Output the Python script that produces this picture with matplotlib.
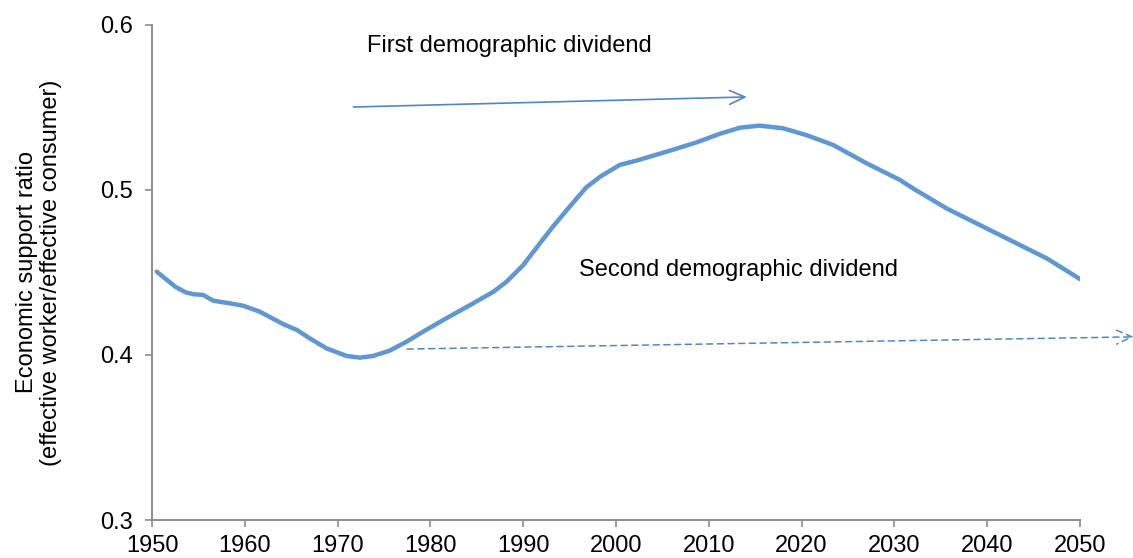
import matplotlib
matplotlib.use("Agg")
import matplotlib.pyplot as plt

plt.rcParams['font.family'] = ['Liberation Sans', 'DejaVu Sans']

# economic support ratio
years = [1950.5, 1952.5, 1953.6, 1954.5, 1955.5, 1956.6, 1958.4, 1959.8, 1961.6,
         1964.1, 1965.6, 1967.0, 1968.8, 1971.0, 1972.4, 1973.8, 1975.6, 1977.4,
         1979.2, 1981.7, 1984.6, 1986.8, 1988.2, 1990.0, 1991.8, 1993.2, 1995.0,
         1996.8, 1998.3, 2000.4, 2002.2, 2005.8, 2008.7, 2011.2, 2013.4, 2015.5,
         2018.0, 2020.5, 2023.4, 2027.0, 2030.6, 2032.0, 2035.6, 2039.2, 2042.8,
         2046.4, 2049.3, 2050.0]
ratio = [0.4505, 0.4414, 0.4380, 0.4368, 0.4364, 0.4329, 0.4313, 0.4299, 0.4263,
         0.4188, 0.4152, 0.4101, 0.4040, 0.3994, 0.3984, 0.3994, 0.4026, 0.4080,
         0.4141, 0.4222, 0.4313, 0.4384, 0.4444, 0.4545, 0.4677, 0.4778, 0.4899,
         0.5016, 0.5081, 0.5152, 0.5178, 0.5238, 0.5289, 0.5341, 0.5378, 0.5390,
         0.5374, 0.5333, 0.5273, 0.5162, 0.5061, 0.5010, 0.4889, 0.4788, 0.4687,
         0.4586, 0.4485, 0.4460]

xticks = list(range(1950, 2051, 10))
yticks = [0.3, 0.4, 0.5, 0.6]

# dividend arrows: (start, end) in data units
first_arrow = ((1971.7, 0.5503), (2014.1, 0.5564))
second_arrow = ((1977.5, 0.4036), (2055.8, 0.4110))

line_color = '#5E97D1'
arrow_color = '#4F86C6'
axis_color = '#8C8C8E'
fs = 17

fig = plt.figure(figsize=(11.33, 5.58), dpi=100)
ax = fig.add_axes([0.1342, 0.0681, 0.8190, 0.8871])

ax.plot(years, ratio, color=line_color, lw=3.2, solid_capstyle='round',
        solid_joinstyle='round')

ax.set_xlim(1950, 2050)
ax.set_ylim(0.3, 0.6)
ax.set_xticks(xticks)
ax.set_yticks(yticks)
ax.set_yticklabels([f'{v:.1f}' for v in yticks])

for side in ['top', 'right']:
    ax.spines[side].set_visible(False)
for side in ['left', 'bottom']:
    ax.spines[side].set_color(axis_color)
    ax.spines[side].set_linewidth(1.4)

ax.tick_params(axis='both', colors=axis_color, width=1.2, length=5,
               labelsize=fs, labelcolor='black')
ax.tick_params(axis='y', pad=9)
ax.tick_params(axis='x', pad=6)

ax.set_ylabel('Economic support ratio\n(effective worker/effective consumer)',
              fontsize=fs, labelpad=27, linespacing=1.15)

ax.annotate('', xy=first_arrow[1], xytext=first_arrow[0],
            arrowprops=dict(arrowstyle='->,head_length=1.1,head_width=0.5',
                            color=arrow_color, lw=1.2, shrinkA=0, shrinkB=0),
            annotation_clip=False)
ax.annotate('', xy=second_arrow[1], xytext=second_arrow[0],
            arrowprops=dict(arrowstyle='->,head_length=1.1,head_width=0.5',
                            color=arrow_color, lw=1.1, ls=(0, (4, 3)),
                            shrinkA=0, shrinkB=0),
            annotation_clip=False)

ax.text(1973.2, 0.5873, 'First demographic dividend', fontsize=fs,
        ha='left', va='center')
ax.text(1996.0, 0.4515, 'Second demographic dividend', fontsize=fs,
        ha='left', va='center')

fig.savefig('out.png', dpi=100)
